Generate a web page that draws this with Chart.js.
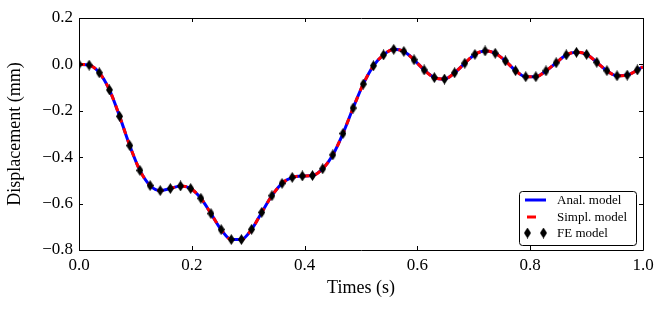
<!DOCTYPE html>
<html>
<head>
<meta charset="utf-8">
<script src="https://cdn.jsdelivr.net/npm/chart.js@4"></script>
<style>
  html, body { margin: 0; padding: 0; background: #fff; }
  #wrap { width: 665px; height: 310px; position: relative; }
</style>
</head>
<body>
<div id="wrap"><canvas id="chart" width="665" height="310"></canvas></div>
<script>
// FE sample times (s), step 0.018
const feTimes = [];
for (let k = 0; k <= 55; k++) feTimes.push(+(k * 0.018).toFixed(3));

// displacement (mm)
const feDisp = [
  0.000, -0.003, -0.036, -0.110, -0.224, -0.350, -0.457, -0.522, -0.544, -0.535,
  -0.524, -0.535, -0.577, -0.643, -0.712, -0.755, -0.755, -0.711, -0.638, -0.566,
  -0.513, -0.487, -0.481, -0.479, -0.450, -0.390, -0.298, -0.188, -0.085, -0.006,
  0.041, 0.065, 0.056, 0.020, -0.024, -0.057, -0.063, -0.036, 0.005, 0.043,
  0.058, 0.048, 0.015, -0.027, -0.053, -0.053, -0.028, 0.007, 0.041, 0.052,
  0.043, 0.009, -0.027, -0.049, -0.046, -0.024
];

// model curves run to t = 1.0
const modelTimes = feTimes.concat([1.0]);
const analDisp = feDisp.concat([-0.010]);
const simplDisp = feDisp.concat([-0.010]);

const xTicks = [0, 0.2, 0.4, 0.6, 0.8, 1.0];
const yTicks = [-0.8, -0.6, -0.4, -0.2, 0, 0.2];

const legendLabels = ["Anal. model", "Simpl. model", "FE model"];

function pts(xs, ys) { return xs.map((x, i) => ({ x: x, y: ys[i] })); }

function fmt(v) {
  if (Math.abs(v) < 1e-9) return "0.0";
  return v.toFixed(1).replace("-", "\u2212");
}

// thin diamond marker
function diamond(w, h) {
  const c = document.createElement("canvas");
  c.width = w; c.height = h;
  const g = c.getContext("2d");
  g.fillStyle = "#000";
  g.beginPath();
  g.moveTo(w / 2, 0); g.lineTo(w, h / 2); g.lineTo(w / 2, h); g.lineTo(0, h / 2);
  g.closePath(); g.fill();
  return c;
}
const dMark = diamond(7, 11);

const serif = "'Liberation Serif', 'DejaVu Serif', serif";

const framePlugin = {
  id: "frame",
  afterDraw(chart) {
    const ctx = chart.ctx, a = chart.chartArea;
    const xs = chart.scales.x, ys = chart.scales.y;
    ctx.save();
    ctx.strokeStyle = "#000";
    ctx.lineWidth = 1;
    ctx.beginPath();
    ctx.rect(Math.round(a.left) + 0.5, Math.round(a.top) + 0.5,
             Math.round(a.right - a.left), Math.round(a.bottom - a.top));
    ctx.stroke();
    ctx.beginPath();
    xTicks.forEach(v => {
      const px = Math.round(xs.getPixelForValue(v)) + 0.5;
      ctx.moveTo(px, a.bottom); ctx.lineTo(px, a.bottom - 4);
      ctx.moveTo(px, a.top); ctx.lineTo(px, a.top + 4);
    });
    yTicks.forEach(v => {
      const py = Math.round(ys.getPixelForValue(v)) + 0.5;
      ctx.moveTo(a.left, py); ctx.lineTo(a.left + 4, py);
      ctx.moveTo(a.right, py); ctx.lineTo(a.right - 4, py);
    });
    ctx.stroke();

    // legend box, lower right
    const bx = a.right - 124, by = a.bottom - 59, bw = 117, bh = 54;
    ctx.beginPath();
    ctx.fillStyle = "#fff";
    ctx.roundRect(bx + 0.5, by + 0.5, bw, bh, 3);
    ctx.fill();
    ctx.strokeStyle = "#000";
    ctx.stroke();
    ctx.font = "13px " + serif;
    ctx.fillStyle = "#000";
    ctx.textBaseline = "middle";
    const rows = [by + 9, by + 26, by + 42];
    ctx.lineWidth = 3;
    ctx.strokeStyle = "#0000ff";
    ctx.beginPath(); ctx.moveTo(bx + 6, rows[0]); ctx.lineTo(bx + 27, rows[0]); ctx.stroke();
    ctx.strokeStyle = "#ff0000";
    ctx.beginPath(); ctx.moveTo(bx + 8, rows[1]); ctx.lineTo(bx + 17, rows[1]); ctx.stroke();
    ctx.drawImage(dMark, bx + 5, rows[2] - 5.5);
    ctx.drawImage(dMark, bx + 21, rows[2] - 5.5);
    legendLabels.forEach((t, i) => ctx.fillText(t, bx + 38, rows[i] + 1));
    ctx.restore();
  }
};

new Chart(document.getElementById("chart"), {
  type: "line",
  data: {
    datasets: [
      {
        label: legendLabels[2], data: pts(feTimes, feDisp), showLine: false,
        pointStyle: dMark, pointRadius: 5, borderColor: "#000", backgroundColor: "#000", order: 0
      },
      {
        label: legendLabels[1], data: pts(modelTimes, simplDisp), borderColor: "#ff0000",
        borderWidth: 3, borderDash: [6, 6], pointRadius: 0, cubicInterpolationMode: "monotone",
        fill: false, order: 1
      },
      {
        label: legendLabels[0], data: pts(modelTimes, analDisp), borderColor: "#0000ff",
        borderWidth: 3, pointRadius: 0, cubicInterpolationMode: "monotone", fill: false, order: 2
      }
    ]
  },
  options: {
    responsive: false,
    animation: false,
    layout: { padding: { top: 18, right: 22, left: 0, bottom: 0 } },
    plugins: { legend: { display: false }, tooltip: { enabled: false } },
    scales: {
      x: {
        type: "linear", min: 0, max: 1,
        afterBuildTicks: s => { s.ticks = xTicks.map(v => ({ value: v })); },
        afterFit: s => { s.height = 60; },
        grid: { display: false, drawTicks: false },
        border: { display: false },
        ticks: { color: "#000", padding: 5, maxRotation: 0, font: { family: serif, size: 17 }, callback: v => fmt(v) },
        title: { display: true, text: "Times (s)", color: "#000", padding: { top: 0, bottom: 11 }, font: { family: serif, size: 18 } }
      },
      y: {
        type: "linear", min: -0.8, max: 0.2,
        afterBuildTicks: s => { s.ticks = yTicks.map(v => ({ value: v })); },
        afterFit: s => { s.width = 79; },
        grid: { display: false, drawTicks: false },
        border: { display: false },
        ticks: { color: "#000", padding: 6, font: { family: serif, size: 17 }, callback: v => fmt(v) },
        title: { display: true, text: "Displacement (mm)", color: "#000", padding: { top: 4, bottom: 0 }, font: { family: serif, size: 18 } }
      }
    }
  },
  plugins: [framePlugin]
});
</script>
</body>
</html>
